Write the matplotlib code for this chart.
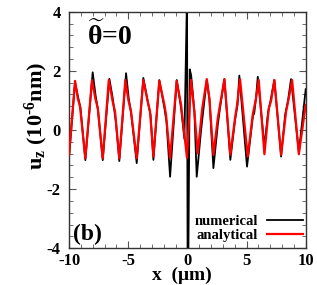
import matplotlib
matplotlib.use('Agg')
import matplotlib.pyplot as plt
from matplotlib.ticker import MultipleLocator

plt.rcParams['font.family'] = ['Liberation Serif', 'DejaVu Serif']
plt.rcParams['font.weight'] = 'bold'
plt.rcParams['mathtext.fontset'] = 'custom'
plt.rcParams['mathtext.rm'] = 'Liberation Serif:bold'
plt.rcParams['mathtext.bf'] = 'Liberation Serif:bold'
plt.rcParams['mathtext.it'] = 'Liberation Serif:bold:italic'

# analytical curve
x_ana = [-10.0,
         -9.49, -9.26, -9.07, -8.62,
         -8.06, -7.78, -7.57, -7.15,
         -6.64, -6.31, -6.11, -5.75,
         -5.24, -4.98, -4.76, -4.28,
         -3.72, -3.35, -3.15, -2.87,
         -2.37, -1.94, -1.80, -1.46,
         -0.90, -0.53, -0.03,
         0.31, 0.59, 0.88,
         1.24, 1.64, 1.86, 2.20,
         2.57, 2.76, 3.13, 3.63,
         4.03, 4.20, 4.45, 5.10,
         5.52, 5.80, 6.03, 6.51,
         6.88, 7.07, 7.35, 7.92,
         8.34, 8.57, 8.85, 9.42,
         10.0]
u_ana = [-0.84,
         1.66, 1.07, 0.79, -0.96,
         1.69, 1.07, 0.73, -0.96,
         1.69, 0.96, 0.62, -0.96,
         1.69, 1.00, 0.62, -0.96,
         1.69, 0.96, 0.62, -0.90,
         1.66, 0.85, 0.51, -0.96,
         1.66, 0.85, -0.95,
         1.69, 0.62, -0.79,
         0.68, 1.72, 1.07, -0.84,
         0.40, 0.85, 1.72, -0.84,
         0.41, 0.85, 1.72, -0.90,
         0.51, 1.07, 1.69, -0.82,
         0.73, 0.98, 1.69, -0.84,
         0.62, 1.07, 1.69, -0.82,
         0.85]

# numerical curve
x_num = [-10.0,
         -9.49, -9.24, -9.03, -8.62,
         -8.00, -7.76, -7.55, -7.15,
         -6.59, -6.31, -6.03, -5.75,
         -5.18, -4.95, -4.76, -4.28,
         -3.72, -3.32, -3.11, -2.87,
         -2.37, -1.94, -1.76, -1.46,
         -0.90, -0.53, -0.25, -0.03, 0.02, 0.08, 0.20, 0.32,
         0.60, 0.79, 1.16, 1.64, 1.87, 2.20,
         2.57, 2.76, 3.13, 3.63,
         4.03, 4.24, 4.39, 5.04,
         5.55, 5.64, 5.80, 5.95, 6.51,
         6.82, 6.99, 7.35, 7.92,
         8.26, 8.51, 8.76, 9.42,
         10.0]
u_num = [-0.95,
         1.62, 1.12, 0.75, -1.02,
         1.95, 1.18, 0.68, -1.02,
         1.73, 1.08, 0.24, -1.05,
         1.92, 1.05, 0.60, -1.12,
         1.76, 0.91, 0.50, -1.01,
         1.69, 0.74, 0.27, -1.58,
         1.69, 0.74, -0.30, 4.6, -4.6, -4.6, 2.05, 1.85,
         0.60, -1.58, 0.00, 1.69, 1.02, -1.29,
         0.17, 0.75, 1.72, -1.01,
         0.34, 0.85, 1.84, -1.24,
         0.51, 0.54, 1.08, 1.80, -0.56,
         0.61, 0.91, 1.69, -0.90,
         0.51, 1.01, 1.72, -0.75,
         1.38]

fig = plt.figure(figsize=(3.17, 2.85), dpi=100)
ax = fig.add_axes([0.2177, 0.1288, 0.7467, 0.8302])

ax.plot(x_num, u_num, color='black', lw=1.3, label='numerical', zorder=2)
ax.plot(x_ana, u_ana, color='#ff0000', lw=1.6, label='analytical', zorder=3)

ax.set_xlim(-10, 10)
ax.set_ylim(-4, 4)
ax.xaxis.set_major_locator(MultipleLocator(5))
ax.xaxis.set_minor_locator(MultipleLocator(1))
ax.yaxis.set_major_locator(MultipleLocator(2))
ax.yaxis.set_minor_locator(MultipleLocator(0.4))
ax.tick_params(which='both', direction='in', top=True, right=True, color='#555555')
ax.tick_params(which='major', length=5, width=0.8, labelsize=12)
ax.tick_params(which='minor', length=3, width=0.6)
ax.tick_params(axis='x', pad=3.5)
ax.tick_params(axis='y', pad=6)
for s in ax.spines.values():
    s.set_linewidth(1.0)
    s.set_color('#333333')

ax.set_xticks([-10, -5, 0, 5, 10])
ax.set_xticklabels(['-10', '-5', '0', '5', '10'])
ax.set_yticks([-4, -2, 0, 2, 4])
ax.set_yticklabels(['-4', '-2', '0', '2', '4'])

ax.set_xlabel('x  (μm)', fontsize=14, fontweight='bold')
ax.xaxis.set_label_coords(0.477, -0.152)
ax.xaxis.label.set_verticalalignment('bottom')
ax.set_ylabel('u$_{\\rm z}$ (10$^{\\rm \u20106}$nm)', fontsize=16, fontweight='bold')
ax.yaxis.set_label_coords(-0.080, 0.56)

ax.text(0.076, 0.859, r'$\widetilde{\mathrm{\theta}}$=0', transform=ax.transAxes,
        fontsize=20, fontweight='bold', ha='left', va='baseline')
ax.text(0.018, 0.035, '(b)', transform=ax.transAxes, fontsize=17,
        fontweight='bold', ha='left', va='baseline')

ax.legend(loc='lower right', bbox_to_anchor=(1.0, 0.015), frameon=False,
          markerfirst=False, fontsize=10.5, handlelength=2.5,
          handletextpad=0.6, labelspacing=0.05, borderpad=0,
          borderaxespad=0.18)

fig.savefig('out.png', dpi=100)
